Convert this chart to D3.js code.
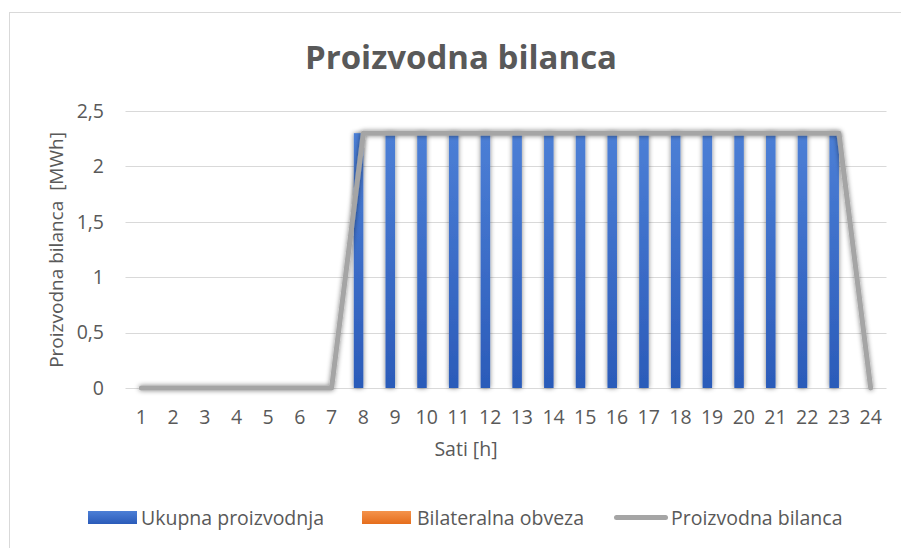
<!DOCTYPE html>
<html>
<head>
<meta charset="utf-8">
<script src="https://cdn.jsdelivr.net/npm/d3@7"></script>
<style>
	body { margin: 0; background: #fff; }
	text { font-family: "Open Sans", sans-serif; fill: #595959; white-space: pre; }
</style>
</head>
<body>
<svg id="chart" width="901" height="548"></svg>
<script>
"use strict";

// hours of the day
var hours = d3.range(1, 25);
// MWh per hour
var ukupnaProizvodnja = [0, 0, 0, 0, 0, 0, 0, 2.3, 2.3, 2.3, 2.3, 2.3, 2.3, 2.3, 2.3, 2.3, 2.3, 2.3, 2.3, 2.3, 2.3, 2.3, 2.3, 0];
var bilateralnaObveza = [0, 0, 0, 0, 0, 0, 0, 0, 0, 0, 0, 0, 0, 0, 0, 0, 0, 0, 0, 0, 0, 0, 0, 0];
var proizvodnaBilanca = [0, 0, 0, 0, 0, 0, 0, 2.3, 2.3, 2.3, 2.3, 2.3, 2.3, 2.3, 2.3, 2.3, 2.3, 2.3, 2.3, 2.3, 2.3, 2.3, 2.3, 0];
var yTicks = [0, 0.5, 1, 1.5, 2, 2.5];
var seriesNames = ["Ukupna proizvodnja", "Bilateralna obveza", "Proizvodna bilanca"];

var svg = d3.select("#chart");
var FS = "19.5px";

var locale = d3.formatLocale({decimal: ",", thousands: ".", grouping: [3], currency: ["", ""]});
var fmt = locale.format("~g");

// gradients + shadow
var defs = svg.append("defs");
function grad(id, top, bottom) {
	var g = defs.append("linearGradient").attr("id", id)
		.attr("x1", 0).attr("y1", 0).attr("x2", 0).attr("y2", 1);
	g.append("stop").attr("offset", "0%").attr("stop-color", top);
	g.append("stop").attr("offset", "100%").attr("stop-color", bottom);
}
grad("gBlue", "#4c7fd6", "#2b5bb9");
grad("gOrange", "#f4934c", "#e56d1c");

var shadow = defs.append("filter").attr("id", "shadow")
	.attr("x", "-50%").attr("y", "-10%").attr("width", "200%").attr("height", "120%");
shadow.append("feGaussianBlur").attr("in", "SourceAlpha").attr("stdDeviation", 2.5);
shadow.append("feOffset").attr("dx", 0).attr("dy", 0).attr("result", "blur");
shadow.append("feComponentTransfer").append("feFuncA").attr("type", "linear").attr("slope", 0.5);
var merge = shadow.append("feMerge");
merge.append("feMergeNode");
merge.append("feMergeNode").attr("in", "SourceGraphic");

// chart frame
svg.append("rect")
	.attr("x", 9.5).attr("y", 12.5)
	.attr("width", 1000).attr("height", 1000)
	.attr("fill", "#fff").attr("stroke", "#d9d9d9");

var x = d3.scaleBand().domain(hours).range([125.5, 886.5]).padding(0);
var xs = d3.scaleBand().domain([0, 1]).range([0, x.bandwidth()]).paddingInner(0).paddingOuter(0.67);
var y = d3.scaleLinear().domain([0, 2.5]).range([388, 111]);

// title
svg.append("text")
	.attr("x", 461).attr("y", 69)
	.attr("text-anchor", "middle")
	.style("font-size", "33px").style("font-weight", "bold")
	.text("Proizvodna bilanca");

// grid
svg.append("g").selectAll("line").data(yTicks).join("line")
	.attr("x1", 125.5).attr("x2", 886.5)
	.attr("y1", d => Math.round(y(d)) + 0.5).attr("y2", d => Math.round(y(d)) + 0.5)
	.attr("stroke", "#d9d9d9").attr("stroke-width", 1);

// y axis
var yAxis = svg.append("g").attr("transform", "translate(104,0)")
	.call(d3.axisLeft(y).tickValues(yTicks).tickFormat(fmt).tickSize(0).tickPadding(0));
yAxis.select(".domain").remove();
yAxis.selectAll("text").style("font-size", FS).style("font-family", "'Open Sans', sans-serif").attr("fill", "#595959");

// x axis
var xAxis = svg.append("g").attr("transform", "translate(0,402)")
	.call(d3.axisBottom(x).tickSize(0).tickPadding(8));
xAxis.select(".domain").remove();
xAxis.selectAll("text").style("font-size", FS).style("font-family", "'Open Sans', sans-serif").attr("fill", "#595959");

// axis titles
svg.append("text")
	.attr("transform", "translate(63,250) rotate(-90)")
	.attr("text-anchor", "middle")
	.style("font-size", "19px")
	.text("Proizvodna bilanca  [MWh]");
svg.append("text")
	.attr("x", 466).attr("y", 456)
	.attr("text-anchor", "middle")
	.style("font-size", FS)
	.text("Sati [h]");

// bars
var barData = [
	{values: ukupnaProizvodnja, fill: "url(#gBlue)"},
	{values: bilateralnaObveza, fill: "url(#gOrange)"}
];
barData.forEach(function(s, si) {
	svg.append("g").attr("filter", "url(#shadow)")
		.selectAll("rect").data(hours.filter((h, i) => s.values[i] > 0)).join("rect")
		.attr("x", h => x(h) + xs(si))
		.attr("width", xs.bandwidth())
		.attr("y", h => y(s.values[h - 1]))
		.attr("height", h => y(0) - y(s.values[h - 1]))
		.attr("fill", s.fill);
});

// line
var line = d3.line()
	.x((d, i) => x(hours[i]) + x.bandwidth() / 2)
	.y(d => y(d));
svg.append("path")
	.datum(proizvodnaBilanca)
	.attr("d", line)
	.attr("fill", "none")
	.attr("stroke", "#a5a5a5")
	.attr("stroke-width", 5)
	.attr("stroke-linejoin", "round")
	.attr("stroke-linecap", "round")
	.attr("filter", "url(#shadow)");

// legend
var legendItems = [
	{name: seriesNames[0], x: 88, tx: 53, type: "rect", fill: "url(#gBlue)"},
	{name: seriesNames[1], x: 362, tx: 55, type: "rect", fill: "url(#gOrange)"},
	{name: seriesNames[2], x: 614, tx: 57, type: "line"}
];
var lg = svg.append("g").selectAll("g").data(legendItems).join("g")
	.attr("transform", d => "translate(" + d.x + ",517.5)");
lg.filter(d => d.type === "rect").append("rect")
	.attr("x", 0).attr("y", -6.5).attr("width", 49).attr("height", 13)
	.attr("fill", d => d.fill);
lg.filter(d => d.type === "line").append("line")
	.attr("x1", 2.5).attr("x2", 51.5).attr("y1", 0).attr("y2", 0)
	.attr("stroke", "#a5a5a5").attr("stroke-width", 5).attr("stroke-linecap", "round");
lg.append("text")
	.attr("x", d => d.tx).attr("y", 7)
	.style("font-size", FS)
	.text(d => d.name);
</script>
</body>
</html>
